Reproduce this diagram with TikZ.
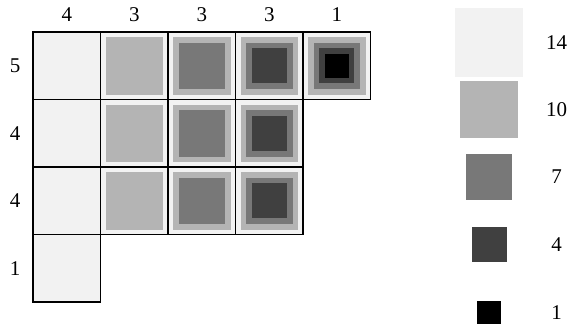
\documentclass[tikz,border=0pt]{standalone}
\usepackage{fontspec}
\setmainfont{Liberation Serif}
\definecolor{gA}{HTML}{F2F2F2}
\definecolor{gB}{HTML}{B4B4B4}
\definecolor{gC}{HTML}{787878}
\definecolor{gD}{HTML}{404040}
\definecolor{gE}{HTML}{000000}
\begin{document}
\begin{tikzpicture}[x=1pt,y=-1pt,
  sq/.style={minimum size=#1, inner sep=0pt, outer sep=0pt, draw=none},
  cell/.style={sq=67.5pt, fill=gA, draw=black, line width=1.1pt},
  lab/.style={font=\fontsize{21}{22}\selectfont, inner sep=0pt}]
\useasboundingbox (0,0) rectangle (569,325);
\fill[white] (0,0) rectangle (569,325);
\foreach \r/\n in {1/5,2/4,3/4,4/1} {
  \foreach \c in {1,...,\n} {
    \node[cell] (c\r\c) at ({33+67.5*(\c-0.5)},{32+67.5*(\r-0.5)}) {};
    \foreach \k/\s/\col in {2/57.5/gB,3/46.5/gC,4/35/gD,5/23.5/gE} {
      \ifnum\c<\k\relax\else
        \node[sq=\s pt, fill=\col] (c\r\c k\k) at (c\r\c) {};
      \fi
    }
  }
}
% column labels
\foreach \c/\t in {1/4,2/3,3/3,4/3,5/1}
  \node[lab] (top\c) at ({33+67.5*(\c-0.5)},15) {\t};
% row labels
\foreach \r/\t in {1/5,2/4,3/4,4/1}
  \node[lab] (left\r) at (15,{32+67.5*(\r-0.5)}) {\t};
% legend
\foreach \i/\y/\s/\col/\t in {1/42.3/68.5/gA/14,2/109.7/57.5/gB/10,3/177/46.5/gC/7,4/244.8/35/gD/4,5/312.5/23.5/gE/1} {
  \node[sq=\s pt, fill=\col] (leg\i) at (489,\y) {};
  \node[lab] (legt\i) at (556.5,\y) {\t};
}
\end{tikzpicture}
\end{document}
